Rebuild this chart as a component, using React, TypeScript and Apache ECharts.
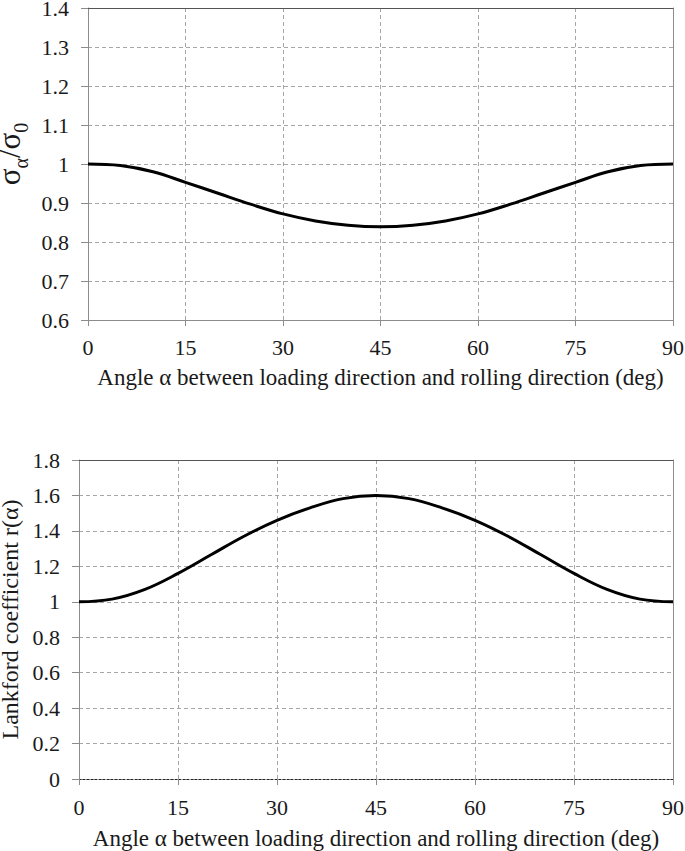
import React, { useEffect, useRef } from "react";
import * as echarts from "echarts";

const angles = [0, 5, 10, 15, 20, 25, 30, 35, 40, 45, 50, 55, 60, 65, 70, 75, 80, 85, 90];
const sigmaRatio = [1.0, 0.996, 0.98, 0.953, 0.925, 0.897, 0.872, 0.854, 0.843, 0.839, 0.843, 0.854, 0.872, 0.897, 0.925, 0.953, 0.98, 0.996, 1.0];
const lankford = [1.0, 1.015, 1.07, 1.16, 1.265, 1.37, 1.46, 1.53, 1.582, 1.6, 1.582, 1.53, 1.46, 1.37, 1.265, 1.16, 1.07, 1.015, 1.0];
const xTicks = { min: 0, max: 90, interval: 15 };
const topY = { min: 0.6, max: 1.4, interval: 0.1 };
const bottomY = { min: 0, max: 1.8, interval: 0.2 };
const xName = "Angle α between loading direction and rolling direction (deg)";
const bottomYName = "Lankford coefficient r(α)";

const FONT = "Liberation Serif, Times New Roman, serif";
const TXT = "#1a1a1a";
const GRID_C = "#a6a6a6";
const AXIS_C = "#8c8c8c";

export default function App() {
  const ref = useRef<HTMLDivElement>(null);
  useEffect(() => {
    if (!ref.current) return;
    const chart = echarts.init(ref.current, undefined, { renderer: "svg" });
    const mainX = (gi: number, axisLineStyle: any, margin: number, nameGap: number) => ({
      type: "value",
      gridIndex: gi,
      min: xTicks.min,
      max: xTicks.max,
      interval: xTicks.interval,
      name: xName,
      nameLocation: "middle",
      nameGap,
      nameTextStyle: { fontFamily: FONT, fontSize: 23, color: TXT },
      axisLine: { show: true, onZero: false, lineStyle: axisLineStyle },
      axisTick: { show: true, length: 6, lineStyle: { color: AXIS_C } },
      axisLabel: { fontFamily: FONT, fontSize: 22, color: TXT, margin },
      splitLine: { show: true, lineStyle: { color: GRID_C, type: [4, 3], width: 1 } },
    });
    const frameX = (gi: number, color: string) => ({
      type: "value",
      gridIndex: gi,
      position: "top",
      min: xTicks.min,
      max: xTicks.max,
      interval: xTicks.interval,
      axisLine: { show: true, onZero: false, lineStyle: { color, width: 1 } },
      axisTick: { show: false },
      axisLabel: { show: false },
      splitLine: { show: false },
    });
    const mainY = (gi: number, r: any, name: any, nameGap: number, nameStyle: any) => ({
      type: "value",
      gridIndex: gi,
      min: r.min,
      max: r.max,
      interval: r.interval,
      name,
      nameLocation: "middle",
      nameGap,
      nameTextStyle: nameStyle,
      axisLine: { show: true, onZero: false, lineStyle: { color: AXIS_C } },
      axisTick: { show: true, length: 7, lineStyle: { color: AXIS_C } },
      axisLabel: { fontFamily: FONT, fontSize: 22, color: TXT, margin: 19 },
      splitLine: { show: true, lineStyle: { color: GRID_C, type: [4, 3], width: 1 } },
    });
    const frameY = (gi: number, r: any) => ({
      type: "value",
      gridIndex: gi,
      position: "right",
      min: r.min,
      max: r.max,
      interval: r.interval,
      axisLine: { show: true, onZero: false, lineStyle: { color: AXIS_C, width: 1 } },
      axisTick: { show: false },
      axisLabel: { show: false },
      splitLine: { show: false },
    });
    chart.setOption({
      animation: false,
      backgroundColor: "#ffffff",
      textStyle: { fontFamily: FONT },
      grid: [
        { left: 88, top: 8, width: 585, height: 312, outerBoundsMode: "none", containLabel: false },
        { left: 79, top: 460, width: 594, height: 319, outerBoundsMode: "none", containLabel: false },
      ],
      xAxis: [
        mainX(0, { color: AXIS_C, width: 1 }, 16, 46),
        mainX(1, { color: "#222", width: 1, type: [2, 2] }, 17, 48),
        frameX(0, "#555"),
        frameX(1, "#555"),
      ],
      yAxis: [
        mainY(0, topY, "{s|σ}{sub|α}{s|/σ}{sub|0}", 54, {
          fontFamily: FONT,
          color: TXT,
          padding: [0, 0, 0, 20],
          rich: {
            s: { fontFamily: FONT, fontSize: 31, color: TXT, lineHeight: 30, verticalAlign: "bottom" },
            sub: { fontFamily: FONT, fontSize: 20, color: TXT, lineHeight: 30, verticalAlign: "bottom", padding: [0, 0, -6, 0] },
          },
        }),
        mainY(1, bottomY, bottomYName, 49, { fontFamily: FONT, fontSize: 24, color: TXT }),
        frameY(0, topY),
        frameY(1, bottomY),
      ],
      series: [
        {
          type: "line",
          xAxisIndex: 0,
          yAxisIndex: 0,
          data: angles.map((a, i) => [a, sigmaRatio[i]]),
          smooth: 0.4,
          showSymbol: false,
          lineStyle: { color: "#000", width: 3 },
        },
        {
          type: "line",
          xAxisIndex: 1,
          yAxisIndex: 1,
          data: angles.map((a, i) => [a, lankford[i]]),
          smooth: 0.4,
          showSymbol: false,
          lineStyle: { color: "#000", width: 3 },
        },
      ],
    });
    return () => chart.dispose();
  }, []);
  return (
    <div
      ref={ref}
      style={{ position: "fixed", left: 0, top: 0, width: 685, height: 851, background: "#fff" }}
    />
  );
}
